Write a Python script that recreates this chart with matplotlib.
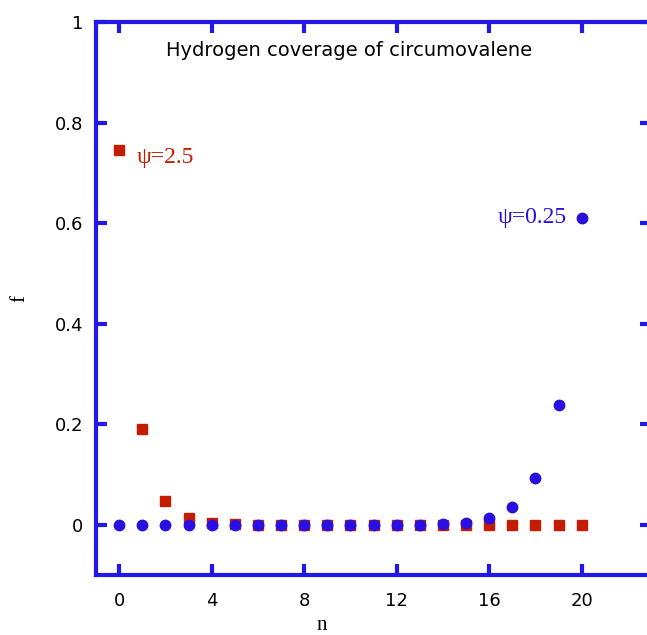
import matplotlib
matplotlib.use("Agg")
import matplotlib.pyplot as plt

# coverage fractions f(n) for the two psi values
n_vals = list(range(21))
f_psi25 = [0.745, 0.190, 0.048, 0.013, 0.003, 0.001, 0.0, 0.0, 0.0, 0.0, 0.0,
           0.0, 0.0, 0.0, 0.0, 0.0, 0.0, 0.0, 0.0, 0.0, 0.0]
f_psi025 = [0.0, 0.0, 0.0, 0.0, 0.0, 0.0, 0.0, 0.0, 0.0, 0.0, 0.0,
            0.0, 0.0, 0.0, 0.001, 0.004, 0.013, 0.036, 0.093, 0.238, 0.610]
xticks = [0, 4, 8, 12, 16, 20]
yticks = [0, 0.2, 0.4, 0.6, 0.8, 1]
ytick_labels = ["0", "0.2", "0.4", "0.6", "0.8", "1"]

red = "#c41c00"
blue = "#2a10e0"
frame = "#2418e8"

fig = plt.figure(figsize=(6.47, 6.35), dpi=100)
ax = fig.add_axes([96 / 647, 1 - 575 / 635, 555 / 647, (575 - 22) / 635])

ax.plot(n_vals, f_psi25, "s", color=red, ms=7, mec=red, clip_on=False)
ax.plot(n_vals, f_psi025, "o", color=blue, ms=7.5, mec=blue, clip_on=False)

ax.set_xlim(-1, 23)
ax.set_ylim(-0.1, 1)
ax.set_xticks(xticks)
ax.set_yticks(yticks)
ax.set_yticklabels(ytick_labels)

for s in ax.spines.values():
    s.set_color(frame)
    s.set_linewidth(3)
ax.tick_params(direction="in", length=8, width=3, color=frame,
               top=True, right=True, labelsize=13)
ax.tick_params(axis="x", pad=12)
ax.tick_params(axis="y", pad=9)
for lab in ax.get_xticklabels() + ax.get_yticklabels():
    lab.set_family("DejaVu Sans")

ax.set_xlabel("n", family="Liberation Serif", fontsize=15)
ax.set_ylabel("f", family="Liberation Serif", fontsize=15)
ax.xaxis.set_label_coords(0.407, -0.074)
ax.yaxis.set_label_coords(-0.12, 0.5)

ax.text(0.456, 0.948, "Hydrogen coverage of circumovalene", transform=ax.transAxes,
        ha="center", va="center", fontsize=14, family="DejaVu Sans")
ax.text(0.75, 0.73, "\u03c8=2.5", color=red, fontsize=17,
        family="Liberation Serif", va="center", ha="left")
ax.text(19.35, 0.612, "\u03c8=0.25", color=blue, fontsize=17,
        family="Liberation Serif", va="center", ha="right")

fig.savefig("out.png", dpi=100)
